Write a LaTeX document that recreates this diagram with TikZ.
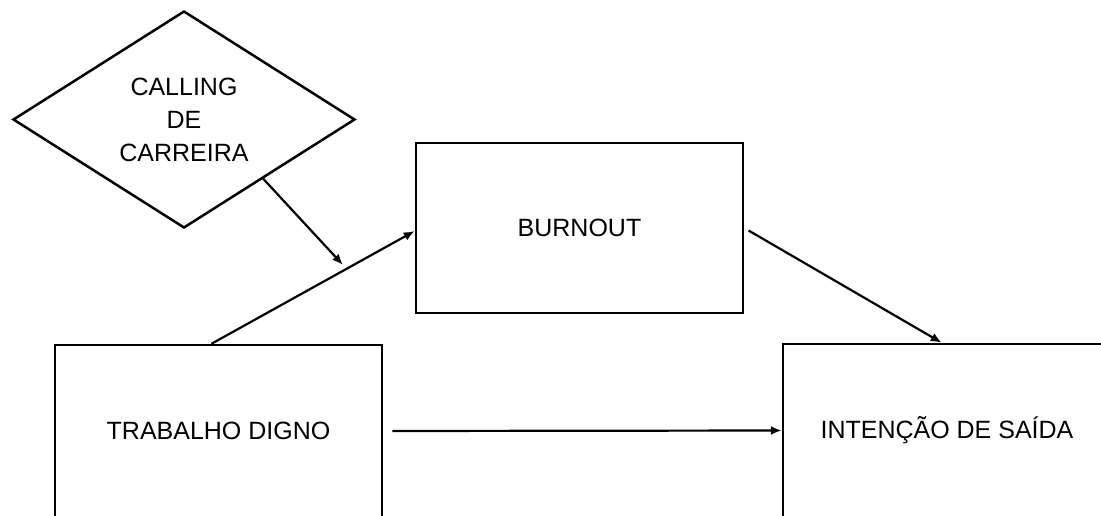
\documentclass[tikz,border=0pt]{standalone}
\usepackage{fontspec}
\setmainfont{Liberation Sans}
\usetikzlibrary{shapes.geometric,arrows.meta,calc}
\begin{document}
\begin{tikzpicture}[x=1pt,y=-1pt,
  box/.style={draw=black,line width=2.5pt,rectangle,inner sep=0pt,align=center,font=\fontsize{25}{33}\selectfont},
  dia/.style={draw=black,line width=2.5pt,diamond,inner sep=0pt,align=center,font=\fontsize{25}{33}\selectfont},
  conn/.style={line width=2.2pt,-{Latex[length=11pt,width=9pt]}}]
\clip (0,0) rectangle (1101,515);
\fill[white] (0,0) rectangle (1101,515);
\node[dia,minimum width=342pt,minimum height=217pt,aspect=1.576] (D) at (184,119.5) {CALLING\\DE\\CARREIRA};
\node[box,minimum width=327pt,minimum height=170pt] (B) at (579.5,228) {BURNOUT};
\node[box,minimum width=327pt,minimum height=172pt] (T) at (218.5,431) {TRABALHO DIGNO};
\node[box,minimum width=328pt,minimum height=173pt] (I) at (947,430.5) {INTENÇÃO DE SAÍDA};
\coordinate (M) at (343,265);
\draw[conn] ($(T.north)+(-7,0)$) -- ($(B.west)+(0,3)$);
\draw[conn] ($(D.south)!0.46!(D.east)$) -- (M);
\draw[conn,shorten <=5pt] (B.east) -- ($(I.north west)+(160,0)$);
\draw[conn,shorten <=9pt] (T.east) -- (I.west);
\end{tikzpicture}
\end{document}
